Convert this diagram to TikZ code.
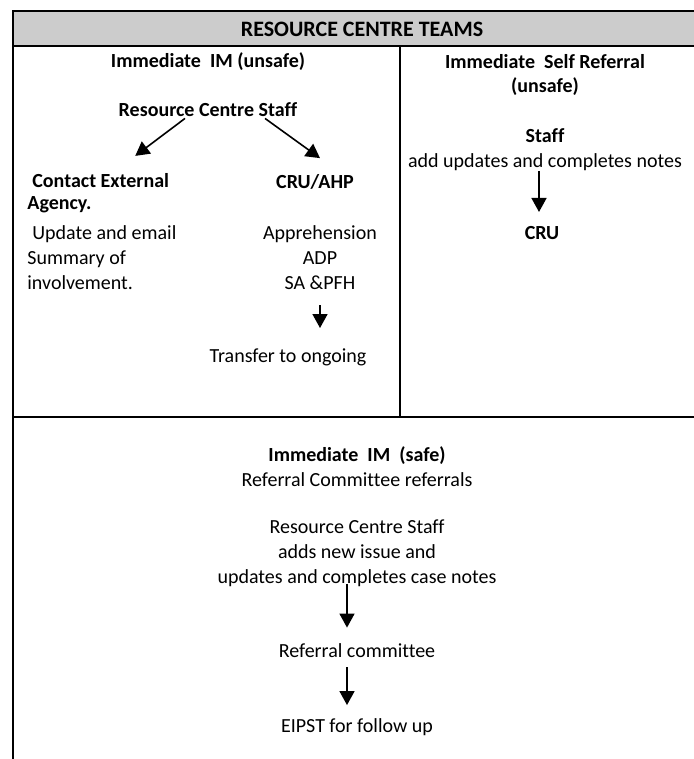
\documentclass[tikz,border=0pt]{standalone}
\usepackage{fontspec}
\setmainfont{Carlito}[Ligatures=NoCommon]
\usepackage{tikz}
\usetikzlibrary{arrows.meta}

\begin{document}
\begin{tikzpicture}[x=0.5pt,y=-0.5pt,
		every node/.style={inner sep=0pt,font=\fontsize{10}{12.5}\selectfont},
		hd/.style={font=\fontsize{10}{12.5}\selectfont\bfseries},
		flow/.style={-{Triangle[length=7pt,width=7.5pt]},line width=0.8pt}]
				      \useasboundingbox (0,0) rectangle (694,759);
				      \fill[gray!40] (13,11) rectangle (700,46);
				      \draw[line width=0.9pt] (700,11) -- (13,11) -- (13,770);
				      \draw[line width=0.9pt] (13,46) -- (700,46);
				      \draw[line width=0.7pt] (400,46) -- (400,417);
				      \draw[line width=0.7pt] (13,417) -- (700,417);
				      \node[hd,font=\fontsize{11}{12.5}\selectfont\bfseries] (teams) at (362,29) {RESOURCE CENTRE TEAMS};
				      \node[hd] (unsafeHead) at (208,62) {Immediate\ \ IM (unsafe)};
				      \node[hd] (rcStaff) at (208,110) {Resource Centre Staff};
				      \node[hd,anchor=west,align=left,font=\fontsize{10}{11}\selectfont\bfseries] (contactExt) at (27,193) {\hspace*{2.5pt}Contact External\\Agency.};
				      \node[anchor=west,align=left] (involve) at (27,257.5) {\hspace*{2.5pt}Update and email\\Summary of\\involvement.};
				      \node[hd] (cruAhp) at (315,182) {CRU/AHP};
				      \node[align=center] (apprList) at (320,258) {Apprehension\\ADP\\SA \&PFH};
				      \node (transfer) at (288,357) {Transfer to ongoing};
				      \node[hd,align=center] (selfHead) at (545,75) {Immediate\ \ Self Referral\\(unsafe)};
				      \node[align=center] (selfStaff) at (545,149.5) {\textbf{Staff}\\add updates and completes notes};
				      \node[hd] (selfCru) at (542,233) {CRU};
				      \node[hd] (safeHead) at (357,456) {Immediate\ \ IM\ \ (safe)};
				      \node (safeSub) at (357,480) {Referral Committee referrals};
				      \node[align=center] (safeStaff) at (357,553) {Resource Centre Staff\\adds new issue and\\updates and completes case notes};
				      \node (refComm) at (357,651) {Referral committee};
				      \node (eipst) at (357,727) {EIPST for follow up};
				      \draw[flow] ([xshift=-11.5pt,yshift=-0.5pt]rcStaff.south) -- ([xshift=18.5pt,yshift=8.5pt]contactExt.north);
				      \draw[flow] ([xshift=28.5pt,yshift=-0.5pt]rcStaff.south) -- ([xshift=2.5pt,yshift=8pt]cruAhp.north);
				      \draw[flow] ([yshift=-7.5pt]apprList.south) -- ([yshift=10pt]apprList.south |- transfer.north);
				      \draw[flow] ([xshift=-3pt]selfStaff.south) -- ([xshift=-1.5pt,yshift=7pt]selfCru.north);
				      \draw[flow] ([xshift=-5pt,yshift=1.5pt]safeStaff.south) -- ([xshift=-5pt,yshift=8pt]refComm.north);
				      \draw[flow] ([xshift=-5pt,yshift=-4.5pt]refComm.south) -- ([xshift=-5pt,yshift=6.5pt]eipst.north);
			      \end{tikzpicture}
\end{document}
